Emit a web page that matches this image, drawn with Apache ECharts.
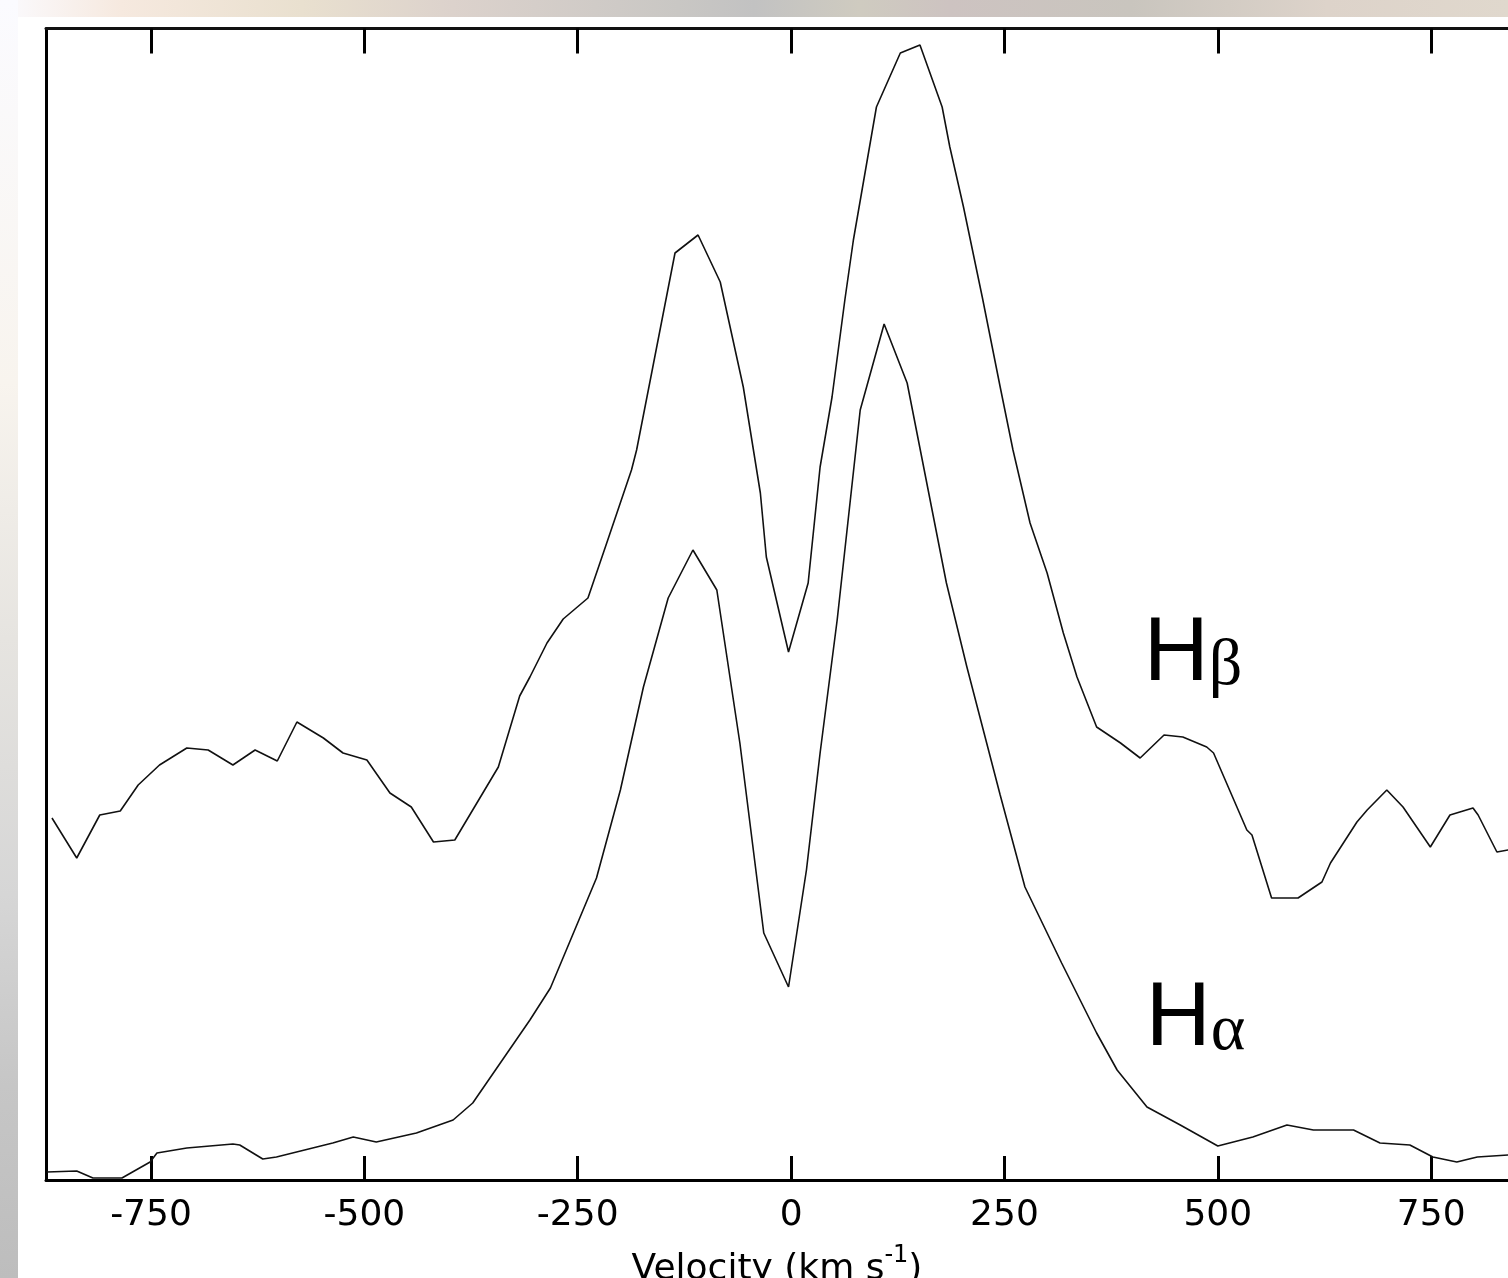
<!DOCTYPE html>
<html>
<head>
<meta charset="utf-8">
<script src="https://cdn.jsdelivr.net/npm/echarts@6/dist/echarts.min.js"></script>
<style>
html,body{margin:0;padding:0;background:#fff;}
#chart{width:1508px;height:1278px;}
</style>
</head>
<body>
<div id="chart"></div>
<script>
// Tick labels on the velocity axis (km/s)
const xTicks = [-750, -500, -250, 0, 250, 500, 750];

// H-beta profile (offset upward), velocity (km/s) and relative flux
const hbVel = [-866,-837,-810,-786,-765,-740,-708,-683,-654,-628,-602,-579,-548,-525,-497,-470,-445,-419,-394,-343,-318,-306,-286,-267,-238,-216,-187,-181,-162,-136,-109,-83,-56,-36,-29,-3,20,34,48,63,73,100,128,151,177,186,202,224,245,260,280,300,319,335,358,386,409,437,459,487,495,534,540,563,594,622,632,663,675,698,717,749,772,799,805,827,840,850];
const hbFlux = [3.62,3.22,3.65,3.69,3.95,4.15,4.32,4.30,4.15,4.30,4.19,4.58,4.42,4.27,4.20,3.87,3.73,3.38,3.40,4.13,4.84,5.03,5.37,5.61,5.82,6.37,7.10,7.30,8.13,9.27,9.45,8.98,7.93,6.87,6.23,5.28,5.97,7.13,7.83,8.80,9.40,10.73,11.27,11.35,10.73,10.33,9.73,8.83,7.93,7.30,6.57,6.07,5.47,5.03,4.53,4.37,4.22,4.45,4.43,4.33,4.27,3.50,3.45,2.82,2.82,2.98,3.17,3.58,3.70,3.90,3.73,3.33,3.65,3.72,3.65,3.28,3.30,3.30];

// H-alpha profile
const haVel = [-872,-837,-818,-784,-751,-743,-708,-654,-646,-619,-603,-537,-513,-486,-439,-396,-373,-306,-282,-228,-200,-173,-144,-115,-87,-60,-32,-3,18,34,54,81,109,136,182,206,245,274,317,358,382,417,456,500,541,581,612,659,690,725,752,780,804,840,850];
const haFlux = [0.08,0.09,0.02,0.02,0.18,0.27,0.32,0.36,0.35,0.21,0.23,0.37,0.43,0.38,0.47,0.60,0.77,1.60,1.92,3.02,3.90,4.93,5.82,6.30,5.90,4.37,2.47,1.93,3.10,4.27,5.60,7.70,8.56,7.97,5.97,5.13,3.85,2.93,2.17,1.47,1.10,0.73,0.55,0.34,0.43,0.55,0.50,0.50,0.37,0.35,0.23,0.18,0.23,0.25,0.25];

// Line labels: [name, velocity, flux] anchor
const lineLabels = [["Hβ", 471, 5.25], ["Hα", 474, 1.60]];

const xMin = -873, xMax = 840, yMin = 0, yMax = 11.515;

const chart = echarts.init(document.getElementById('chart'), null, {renderer: 'canvas'});

const labelRich = {
  h: {fontFamily: 'Liberation Sans', fontSize: 90, color: '#000', verticalAlign: 'bottom'},
  g: {fontFamily: 'Liberation Serif', fontSize: 66, color: '#000', verticalAlign: 'bottom'}
};

function mp(lbl) {
  return {
    symbol: 'circle', symbolSize: 0,
    label: {show: true, position: 'inside', formatter: '{h|H}{g|' + lbl[0].slice(1) + '}', rich: labelRich},
    data: [{coord: [lbl[1], lbl[2]]}]
  };
}

const tickStyle = {show: true, inside: true, length: 24, lineStyle: {color: '#000', width: 3}, customValues: xTicks};

const option = {
  animation: false,
  backgroundColor: '#ffffff',
  graphic: [
    {type: 'rect', left: 0, top: 0, z: -10, shape: {width: 1508, height: 17},
     style: {fill: new echarts.graphic.LinearGradient(0, 0, 1, 0, [
       {offset: 0, color: '#fbfbff'}, {offset: 0.08, color: '#f6e9df'},
       {offset: 0.2, color: '#e9e0cf'}, {offset: 0.3, color: '#dcd2cc'},
       {offset: 0.45, color: '#c9c7c4'}, {offset: 0.5, color: '#c2c2c2'},
       {offset: 0.57, color: '#cfcbc0'}, {offset: 0.63, color: '#cdc3c1'},
       {offset: 0.75, color: '#c9c5be'}, {offset: 0.88, color: '#ddd3ca'},
       {offset: 1, color: '#e0d8cd'}])}},
    {type: 'rect', left: 0, top: 0, z: -10, shape: {width: 18, height: 1278},
     style: {fill: new echarts.graphic.LinearGradient(0, 0, 0, 1, [
       {offset: 0, color: '#fbfbff'}, {offset: 0.3, color: '#f8f4ee'},
       {offset: 0.5, color: '#e6e4e0'}, {offset: 0.7, color: '#d6d6d6'},
       {offset: 0.85, color: '#c6c6c6'}, {offset: 1, color: '#bdbdbd'}])}}
  ],
  grid: {left: 46, right: 0, top: 28.5, bottom: 98, containLabel: false, outerBoundsMode: 'none'},
  xAxis: [
    {
      type: 'value', position: 'bottom', min: xMin, max: xMax,
      axisLine: {show: true, onZero: false, lineStyle: {color: '#000', width: 3}},
      axisTick: tickStyle,
      axisLabel: {show: true, customValues: xTicks, margin: 18, fontSize: 36, fontFamily: 'DejaVu Sans', color: '#000'},
      splitLine: {show: false},
      name: '{a|Velocity (km s}{s|-1}{a|)}',
      nameLocation: 'middle', nameGap: 64,
      nameTextStyle: {
        rich: {
          a: {fontSize: 36, fontFamily: 'DejaVu Sans', color: '#000', lineHeight: 44, verticalAlign: 'bottom'},
          s: {fontSize: 24, fontFamily: 'DejaVu Sans', color: '#000', lineHeight: 44, verticalAlign: 'top'}
        }
      }
    },
    {
      type: 'value', position: 'top', min: xMin, max: xMax,
      axisLine: {show: true, onZero: false, lineStyle: {color: '#111', width: 3}},
      axisTick: Object.assign({}, tickStyle, {length: 25}),
      axisLabel: {show: false},
      splitLine: {show: false}
    }
  ],
  yAxis: {
    type: 'value', min: yMin, max: yMax,
    axisLine: {show: true, onZero: false, lineStyle: {color: '#000', width: 3}},
    axisTick: {show: false}, axisLabel: {show: false}, splitLine: {show: false}
  },
  series: [
    {
      name: 'Hβ', type: 'line', xAxisIndex: 0, symbol: 'none', smooth: false,
      lineStyle: {color: '#111', width: 1.6},
      data: hbVel.map((v, i) => [v, hbFlux[i]]),
      markPoint: mp(lineLabels[0])
    },
    {
      name: 'Hα', type: 'line', xAxisIndex: 0, symbol: 'none', smooth: false,
      lineStyle: {color: '#111', width: 1.6},
      data: haVel.map((v, i) => [v, haFlux[i]]),
      markPoint: mp(lineLabels[1])
    }
  ]
};
chart.setOption(option);
</script>
</body>
</html>
